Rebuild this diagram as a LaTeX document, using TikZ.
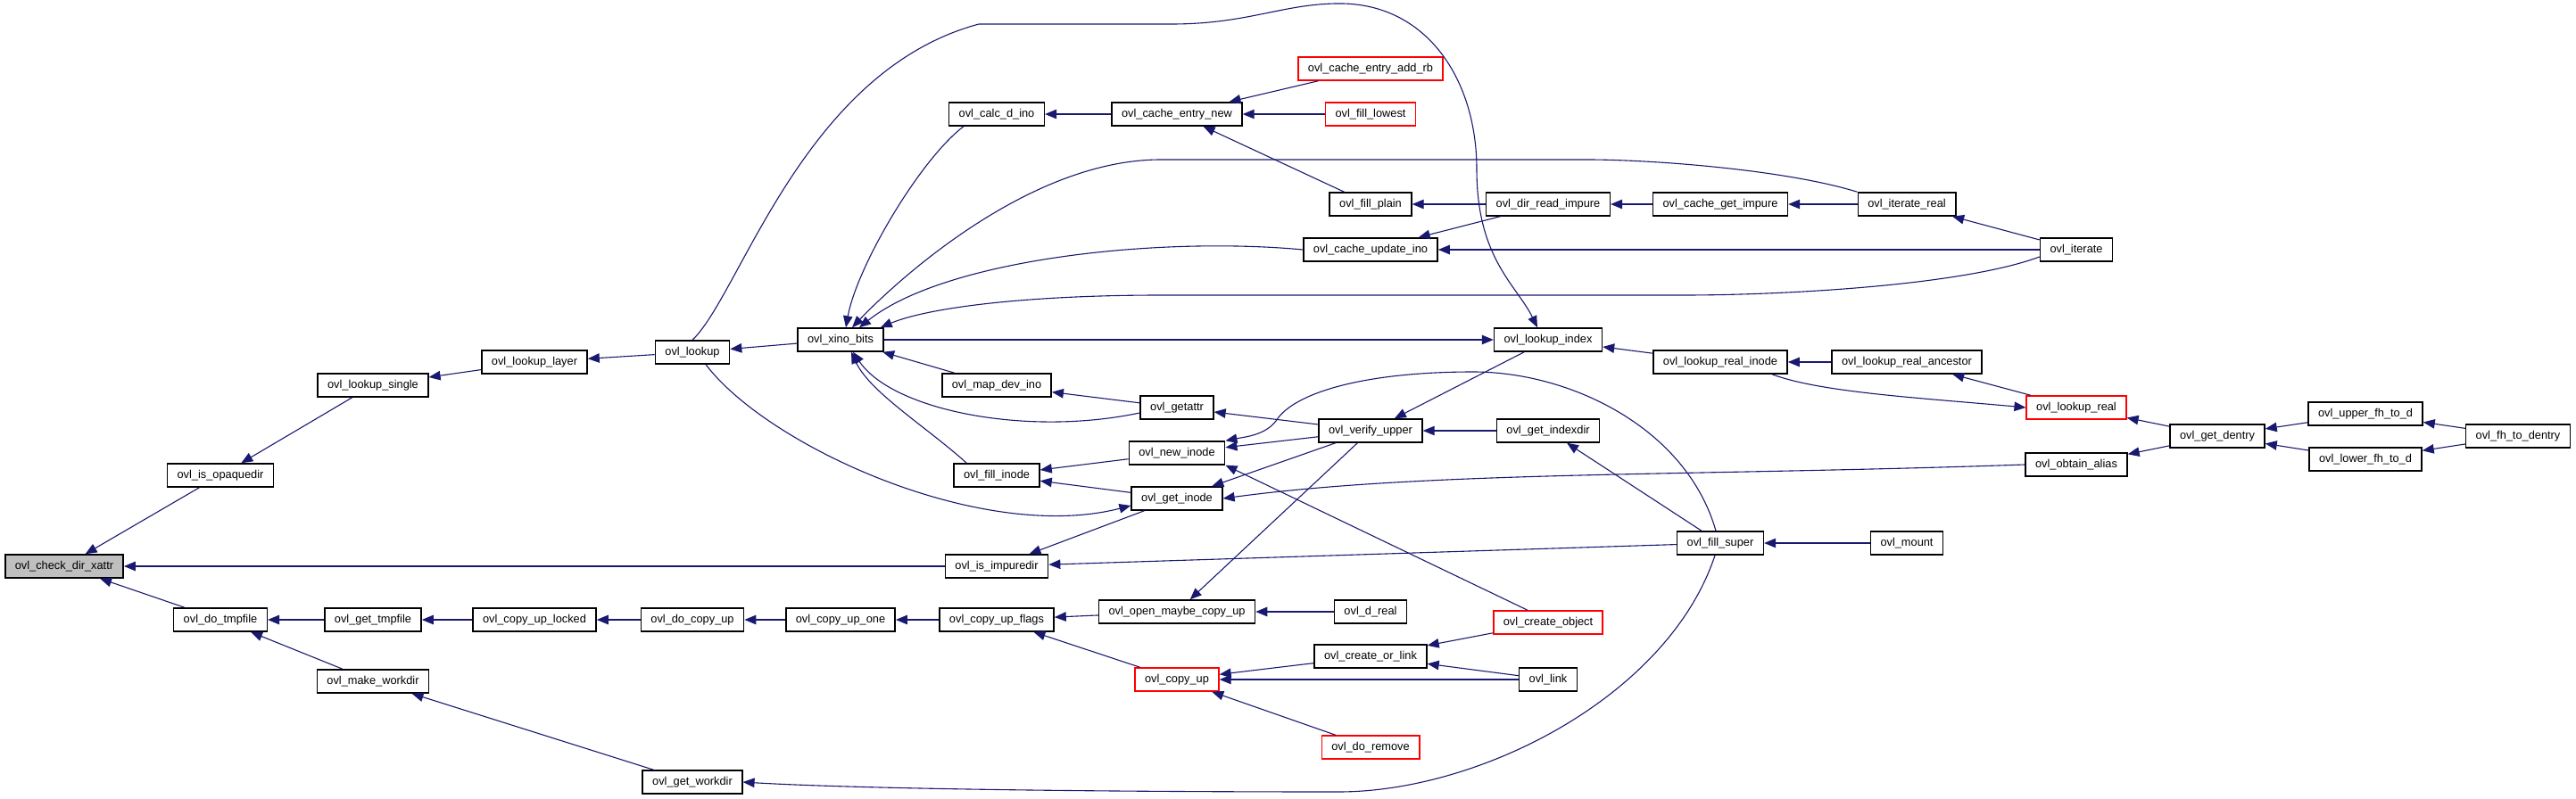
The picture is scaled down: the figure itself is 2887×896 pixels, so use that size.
\documentclass[tikz,border=0pt]{standalone}
\usepackage{fontspec}
\setmainfont{Liberation Sans}
\usetikzlibrary{arrows.meta}
\definecolor{edgeblue}{HTML}{191970}
\definecolor{callred}{HTML}{FF0000}
\definecolor{selgray}{HTML}{BFBFBF}

\begin{document}
\begin{tikzpicture}[x=1pt, y=-1pt, >={Triangle[length=13pt, width=10.5pt]},
  fnbox/.style={draw=black, fill=white, line width=1.5pt, font=\fontsize{12.8}{14}\selectfont,
                inner xsep=11pt, minimum height=26pt, text height=9.3pt, text depth=2.7pt},
  redbox/.style={fnbox, draw=callred},
  calledge/.style={edgeblue, line width=1.1pt}
]

% Canvas
\useasboundingbox (0,0) rectangle (2887,896);

% Columns, left to right
\node[fnbox, fill=selgray] (check-xattr) at (72,635) {ovl\_check\_dir\_xattr};

\node[fnbox] (is-opaquedir) at (247,533) {ovl\_is\_opaquedir};
\node[fnbox] (do-tmpfile) at (247,695) {ovl\_do\_tmpfile};

\node[fnbox] (lookup-single) at (418,432) {ovl\_lookup\_single};
\node[fnbox] (get-tmpfile) at (418,695) {ovl\_get\_tmpfile};
\node[fnbox] (make-workdir) at (418,764) {ovl\_make\_workdir};

\node[fnbox] (lookup-layer) at (599,406) {ovl\_lookup\_layer};
\node[fnbox] (copy-up-locked) at (599,695) {ovl\_copy\_up\_locked};

\node[fnbox] (lookup) at (776,395) {ovl\_lookup};
\node[fnbox] (do-copy-up) at (776,695) {ovl\_do\_copy\_up};
\node[fnbox] (get-workdir) at (776,877) {ovl\_get\_workdir};

\node[fnbox] (xino-bits) at (942,381) {ovl\_xino\_bits};
\node[fnbox] (copy-up-one) at (942,695) {ovl\_copy\_up\_one};

\node[fnbox] (calc-d-ino) at (1117,128) {ovl\_calc\_d\_ino};
\node[fnbox] (map-dev-ino) at (1117,432) {ovl\_map\_dev\_ino};
\node[fnbox] (fill-inode) at (1117,533) {ovl\_fill\_inode};
\node[fnbox] (is-impuredir) at (1117,635) {ovl\_is\_impuredir};
\node[fnbox] (copy-up-flags) at (1117,695) {ovl\_copy\_up\_flags};

\node[fnbox] (cache-entry-new) at (1319,128) {ovl\_cache\_entry\_new};
\node[fnbox] (getattr) at (1319,457) {ovl\_getattr};
\node[fnbox] (new-inode) at (1319,508) {ovl\_new\_inode};
\node[fnbox] (get-inode) at (1319,559) {ovl\_get\_inode};
\node[fnbox] (open-maybe) at (1319,686) {ovl\_open\_maybe\_copy\_up};
\node[redbox] (copy-up) at (1319,762) {ovl\_copy\_up};

\node[redbox] (add-rb) at (1536,77) {ovl\_cache\_entry\_add\_rb};
\node[redbox] (fill-lowest) at (1536,128) {ovl\_fill\_lowest};
\node[fnbox] (fill-plain) at (1536,229) {ovl\_fill\_plain};
\node[fnbox] (cache-update-ino) at (1536,280) {ovl\_cache\_update\_ino};
\node[fnbox] (verify-upper) at (1536,483) {ovl\_verify\_upper};
\node[fnbox] (d-real) at (1536,686) {ovl\_d\_real};
\node[fnbox] (create-or-link) at (1536,736) {ovl\_create\_or\_link};
\node[redbox] (do-remove) at (1536,838) {ovl\_do\_remove};

\node[fnbox] (dir-read-impure) at (1735,229) {ovl\_dir\_read\_impure};
\node[fnbox] (lookup-index) at (1735,381) {ovl\_lookup\_index};
\node[fnbox] (get-indexdir) at (1735,483) {ovl\_get\_indexdir};
\node[redbox] (create-object) at (1735,698) {ovl\_create\_object};
\node[fnbox] (link) at (1735,762) {ovl\_link};

\node[fnbox] (cache-get-impure) at (1928,229) {ovl\_cache\_get\_impure};
\node[fnbox] (lookup-real-inode) at (1928,406) {ovl\_lookup\_real\_inode};
\node[fnbox] (fill-super) at (1928,609) {ovl\_fill\_super};

\node[fnbox] (iterate-real) at (2137,229) {ovl\_iterate\_real};
\node[fnbox] (real-ancestor) at (2137,406) {ovl\_lookup\_real\_ancestor};
\node[fnbox] (mount) at (2137,609) {ovl\_mount};

\node[fnbox] (iterate) at (2327,280) {ovl\_iterate};
\node[redbox] (lookup-real) at (2327,457) {ovl\_lookup\_real};
\node[fnbox] (obtain-alias) at (2327,521) {ovl\_obtain\_alias};

\node[fnbox] (get-dentry) at (2485,489) {ovl\_get\_dentry};
\node[fnbox] (upper-fh) at (2651,464) {ovl\_upper\_fh\_to\_d};
\node[fnbox] (lower-fh) at (2651,515) {ovl\_lower\_fh\_to\_d};
\node[fnbox] (fh-to-dentry) at (2822,489) {ovl\_fh\_to\_dentry};

% Straight calls
\draw[calledge, <-] (check-xattr) -- (is-opaquedir);
\draw[calledge, <-] (check-xattr) -- (do-tmpfile);
\draw[calledge, <-] (check-xattr) -- (is-impuredir);
\draw[calledge, <-] (is-opaquedir) -- (lookup-single);
\draw[calledge, <-] (lookup-single) -- (lookup-layer);
\draw[calledge, <-] (lookup-layer) -- (lookup);
\draw[calledge, <-] (lookup) -- (xino-bits);
\draw[calledge, ->] (xino-bits) -- (lookup-index);
\draw[calledge, <-] (do-tmpfile) -- (get-tmpfile);
\draw[calledge, <-] (do-tmpfile) -- (make-workdir);
\draw[calledge, <-] (make-workdir) -- (get-workdir);
\draw[calledge, <-] (get-tmpfile) -- (copy-up-locked);
\draw[calledge, <-] (copy-up-locked) -- (do-copy-up);
\draw[calledge, <-] (do-copy-up) -- (copy-up-one);
\draw[calledge, <-] (copy-up-one) -- (copy-up-flags);
\draw[calledge, <-] (copy-up-flags) -- (open-maybe);
\draw[calledge, <-] (copy-up-flags) -- (copy-up);
\draw[calledge, <-] (open-maybe) -- (d-real);
\draw[calledge, <-] (open-maybe) -- (verify-upper);
\draw[calledge, <-] (copy-up) -- (create-or-link);
\draw[calledge, <-] (copy-up) -- (link);
\draw[calledge, <-] (copy-up) -- (do-remove);
\draw[calledge, <-] (create-or-link) -- (create-object);
\draw[calledge, <-] (create-or-link) -- (link);
\draw[calledge, <-] (new-inode.south east) -- ([xshift=-23pt]create-object.north);
\draw[calledge, <-] (xino-bits) -- (map-dev-ino);
\draw[calledge, <-] (map-dev-ino) -- (getattr);
\draw[calledge, <-] (getattr) -- (verify-upper);
\draw[calledge, <-] (new-inode) -- (verify-upper);
\draw[calledge, <-] (get-inode) -- (verify-upper);
\draw[calledge, <-] (fill-inode) -- (new-inode);
\draw[calledge, <-] (fill-inode) -- (get-inode);
\draw[calledge, <-] (is-impuredir) -- (get-inode);
\draw[calledge, <-] (is-impuredir) -- (fill-super);
\draw[calledge, <-] (verify-upper) -- (get-indexdir);
\draw[calledge, <-] (verify-upper) -- (lookup-index);
\draw[calledge, <-] (get-indexdir) -- (fill-super);
\draw[calledge, <-] (fill-super) -- (mount);
\draw[calledge, <-] (calc-d-ino) -- (cache-entry-new);
\draw[calledge, <-] (cache-entry-new) -- (add-rb);
\draw[calledge, <-] (cache-entry-new) -- (fill-lowest);
\draw[calledge, <-] (cache-entry-new) -- (fill-plain);
\draw[calledge, <-] (fill-plain) -- (dir-read-impure);
\draw[calledge, <-] (cache-update-ino) -- (dir-read-impure);
\draw[calledge, <-] (cache-update-ino) -- (iterate);
\draw[calledge, <-] (dir-read-impure) -- (cache-get-impure);
\draw[calledge, <-] (cache-get-impure) -- (iterate-real);
\draw[calledge, <-] (iterate-real) -- (iterate);
\draw[calledge, <-] (lookup-index) -- (lookup-real-inode);
\draw[calledge, <-] (lookup-real-inode) -- (real-ancestor);
\draw[calledge, <-] (real-ancestor) -- (lookup-real);
\draw[calledge, <-] (lookup-real) -- (get-dentry);
\draw[calledge, <-] (obtain-alias) -- (get-dentry);
\draw[calledge, <-] (get-dentry) -- (upper-fh);
\draw[calledge, <-] (get-dentry) -- (lower-fh);
\draw[calledge, <-] (upper-fh) -- (fh-to-dentry);
\draw[calledge, <-] (lower-fh) -- (fh-to-dentry);

% Curved calls
\draw[calledge, ->] (lookup.north) .. controls (830,330) and (900,80) .. (1097,27)
  -- (1313,27) .. controls (1400,27) and (1440,3) .. (1505,4)
  .. controls (1600,6) and (1655,90) .. (1655,190)
  .. controls (1655,290) and (1700,320) .. ([xshift=-12pt]lookup-index.north);
\draw[calledge, ->] ([xshift=15pt]lookup.south) .. controls (860,500) and (1100,610)
  .. ([yshift=-8pt]get-inode.west);
\draw[calledge, ->] ([xshift=17pt]calc-d-ino.south west) .. controls (1030,180) and (960,300)
  .. ([xshift=6pt]xino-bits.north);
\draw[calledge, ->] (iterate-real.north west) .. controls (2000,190) and (1850,179) .. (1779,179)
  -- (1301,179) .. controls (1150,179) and (1000,320) .. ([xshift=13pt]xino-bits.north);
\draw[calledge, ->] (cache-update-ino.west) .. controls (1300,265) and (1060,290)
  .. ([xshift=21pt]xino-bits.north);
\draw[calledge, ->] ([yshift=-8pt]iterate.west) .. controls (2200,320) and (2000,331) .. (1887,331)
  -- (1301,331) .. controls (1150,331) and (1040,345) .. ([xshift=-4pt]xino-bits.north east);
\draw[calledge, ->] ([yshift=-6pt]getattr.west) .. controls (1150,490) and (1000,460)
  .. ([xshift=14pt]xino-bits.south);
\draw[calledge, ->] ([xshift=15pt]fill-inode.north west) .. controls (1040,480) and (975,440)
  .. ([xshift=12pt]xino-bits.south);
\draw[calledge, ->] ([xshift=-5pt]fill-super.north) .. controls (1890,480) and (1760,417) .. (1651,417)
  .. controls (1530,417) and (1450,440) .. (1430,472)
  .. controls (1418,488) and (1395,490) .. (new-inode.north east);
\draw[calledge, ->] ([xshift=-6pt]fill-super.south) .. controls (1870,780) and (1660,888) .. (1500,888)
  .. controls (1200,888) and (950,884) .. (get-workdir.east);
\draw[calledge, ->] ([xshift=58pt]lookup-real-inode.south) .. controls (2040,440) and (2150,446)
  .. (lookup-real.west);
\draw[calledge, ->] (obtain-alias.west) .. controls (1900,534) and (1600,528) .. (get-inode.east);

\end{tikzpicture}
\end{document}
